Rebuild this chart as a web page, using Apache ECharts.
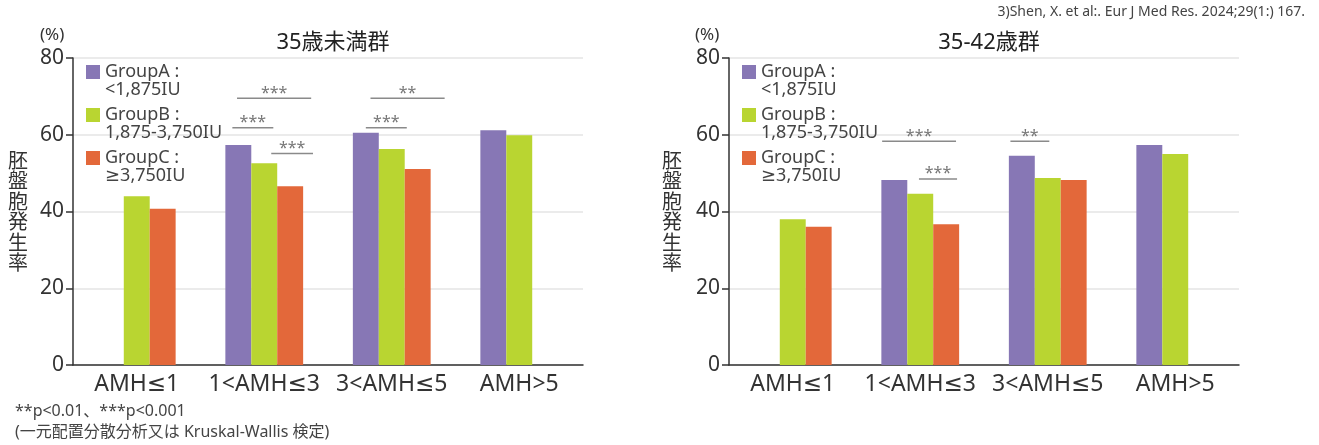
<!DOCTYPE html>
<html>
<head>
<meta charset="utf-8">
<script src="https://cdn.jsdelivr.net/npm/echarts@6/dist/echarts.min.js"></script>
<style>
  html, body { margin: 0; padding: 0; background: #fff; }
  #chart { width: 1319px; height: 445px; }
</style>
</head>
<body>
<div id="chart"></div>
<script>
  // カテゴリ
  const categories = ['AMH≤1', '1<AMH≤3', '3<AMH≤5', 'AMH>5'];
  const groupNames = ['GroupA', 'GroupB', 'GroupC'];
  const groupLabels = ['<1,875IU', '1,875-3,750IU', '≥3,750IU'];
  const yTicks = [0, 20, 40, 60, 80];

  // 35歳未満群
  const under35A = [null, 57.3, 60.5, 61.2];
  const under35B = [44.0, 52.6, 56.3, 59.9];
  const under35C = [40.7, 46.6, 51.1, null];

  // 35-42歳群
  const age3542A = [null, 48.2, 54.5, 57.3];
  const age3542B = [38.0, 44.6, 48.7, 55.0];
  const age3542C = [36.0, 36.7, 48.2, null];

  // 有意差ライン [カテゴリ, 高さ(%)], 記号
  const sigUnder35 = [[1, 69.5], [1, 61.8], [1, 55.1], [2, 69.5], [2, 61.8]];
  const sigUnder35Marks = ['***', '***', '***', '**', '***'];
  const sigAge3542 = [[1, 58.3], [1, 48.5], [2, 58.3]];
  const sigAge3542Marks = ['***', '***', '**'];
  // 線の左右端 (バー幅単位、カテゴリ中心から)
  const sigUnder35Span = [[-1.05, 1.81], [-1.23, 0.35], [0.27, 1.88], [-0.82, 2.04], [-1.0, 0.58]];
  const sigAge3542Span = [[-1.47, 1.38], [-0.05, 1.42], [-1.44, 0.06]];

  const colors = ['#8777b5', '#b9d531', '#e3683a'];
  const FONT = '"Noto Sans", "DejaVu Sans", "Noto Sans CJK JP", sans-serif';
  const CAT_GAP = 0.39;

  const chart = echarts.init(document.getElementById('chart'));

  function grid (left) {
    return { left: left, width: 510, top: 58, height: 307, containLabel: false };
  }

  function xAxis (idx) {
    return {
      type: 'category',
      gridIndex: idx,
      data: categories,
      axisLine: { lineStyle: { color: '#333', width: 1.5 } },
      axisTick: { alignWithLabel: true, length: 7, lineStyle: { color: '#333', width: 1.5 } },
      axisLabel: { interval: 0, fontFamily: FONT, fontSize: 23, color: '#333', margin: 8 }
    }
  }

  function yAxis (idx, gap) {
    return {
      type: 'value',
      gridIndex: idx,
      min: yTicks[0],
      max: yTicks[yTicks.length - 1],
      interval: 20,
      name: '胚\n盤\n胞\n発\n生\n率',
      nameLocation: 'middle',
      nameRotate: 0,
      nameGap: gap,
      nameTextStyle: { fontFamily: '"Noto Sans CJK JP", sans-serif', fontSize: 20, lineHeight: 20.5, color: '#333' },
      axisLine: { show: true, lineStyle: { color: '#333', width: 1.5 } },
      axisTick: { show: true, length: 7, lineStyle: { color: '#333', width: 1.5 } },
      axisLabel: { fontFamily: FONT, fontSize: 21, color: '#333', margin: 9 },
      splitLine: { lineStyle: { color: '#e4e4e4', width: 1.5 } }
    }
  }

  function bar (name, data, idx, color) {
    return {
      name: name,
      type: 'bar',
      xAxisIndex: idx,
      yAxisIndex: idx,
      data: data,
      barGap: '0%',
      barCategoryGap: (CAT_GAP * 100) + '%',
      itemStyle: { color: color },
      emphasis: { disabled: true },
      animation: false
    }
  }

  function sigSeries (idx, data, marks, spans) {
    return {
      type: 'custom',
      xAxisIndex: idx,
      yAxisIndex: idx,
      data: data,
      silent: true,
      animation: false,
      z: 5,
      renderItem: function (params, api) {
        const i = params.dataIndex;
        const p = api.coord([api.value(0), api.value(1)]);
        const band = api.size([1, 0])[0];
        const bw = band * (1 - CAT_GAP) / 3;
        const x1 = p[0] + spans[i][0] * bw;
        const x2 = p[0] + spans[i][1] * bw;
        return {
          type: 'group',
          children: [
            {
              type: 'line',
              shape: { x1: x1, y1: p[1], x2: x2, y2: p[1] },
              style: { stroke: '#8a8a8a', lineWidth: 1.5 }
            },
            {
              type: 'text',
              style: {
                x: (x1 + x2) / 2, y: p[1] - 5,
                text: marks[i],
                textAlign: 'center', textVerticalAlign: 'middle',
                fontFamily: FONT, fontSize: 16, fill: '#777'
              }
            }
          ]
        }
      }
    }
  }

  function legend (left) {
    return {
      left: left,
      top: 45,
      padding: 0,
      orient: 'vertical',
      data: groupNames,
      itemWidth: 14,
      itemHeight: 14,
      itemGap: -11,
      icon: 'rect',
      selectedMode: false,
      // 先頭の空行で1行目をアイコンの高さに揃える
      formatter: function (name) {
        return '\n' + name + ' :\n' + groupLabels[groupNames.indexOf(name)]
      },
      textStyle: {
        fontFamily: FONT, fontSize: 18, color: '#444', lineHeight: 18
      }
    }
  }

  const option = {
    color: colors,
    title: [
      { text: '35歳未満群', left: 328, top: 27, textAlign: 'center',
        textStyle: { fontFamily: FONT, fontSize: 22, fontWeight: 'normal', color: '#222' } },
      { text: '35-42歳群', left: 984, top: 27, textAlign: 'center',
        textStyle: { fontFamily: FONT, fontSize: 22, fontWeight: 'normal', color: '#222' } },
      { text: '(%)', left: 35, top: 22,
        textStyle: { fontFamily: FONT, fontSize: 17, fontWeight: 'normal', color: '#333' } },
      { text: '(%)', left: 690, top: 22,
        textStyle: { fontFamily: FONT, fontSize: 17, fontWeight: 'normal', color: '#333' } },
      { text: '3)Shen, X. et al:. Eur J Med Res. 2024;29(1:) 167.', right: 9, top: 0,
        textStyle: { fontFamily: FONT, fontSize: 14, fontWeight: 'normal', color: '#444' } },
      { text: '**p<0.01、***p<0.001', left: 10, top: 398,
        textStyle: { fontFamily: FONT, fontSize: 16, fontWeight: 'normal', color: '#444' } },
      { text: '(一元配置分散分析又は Kruskal-Wallis 検定)', left: 10, top: 419,
        textStyle: { fontFamily: FONT, fontSize: 16, fontWeight: 'normal', color: '#444' } }
    ],
    legend: [legend(86), legend(742)],
    grid: [grid(73), grid(729)],
    xAxis: [xAxis(0), xAxis(1)],
    yAxis: [yAxis(0, 45), yAxis(1, 47)],
    series: [
      bar('GroupA', under35A, 0, colors[0]),
      bar('GroupB', under35B, 0, colors[1]),
      bar('GroupC', under35C, 0, colors[2]),
      bar('GroupA', age3542A, 1, colors[0]),
      bar('GroupB', age3542B, 1, colors[1]),
      bar('GroupC', age3542C, 1, colors[2]),
      sigSeries(0, sigUnder35, sigUnder35Marks, sigUnder35Span),
      sigSeries(1, sigAge3542, sigAge3542Marks, sigAge3542Span)
    ]
  };

  chart.setOption(option);
</script>
</body>
</html>
